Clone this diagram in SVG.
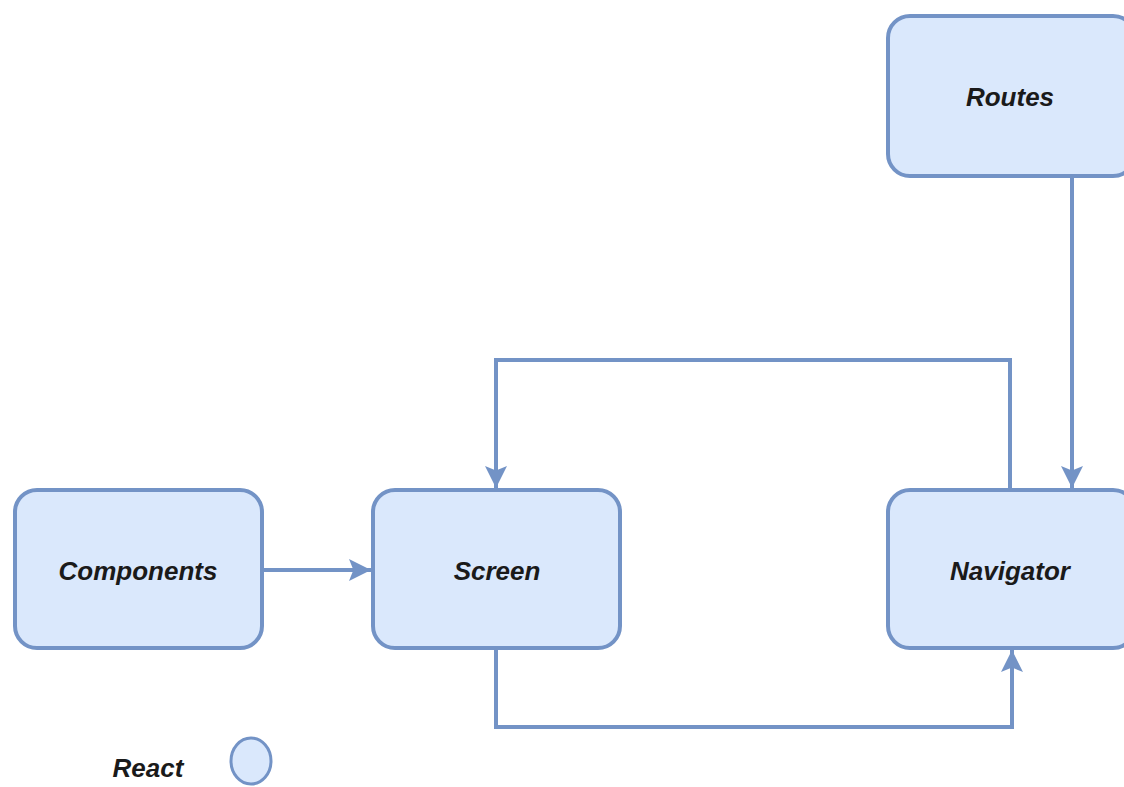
<svg xmlns="http://www.w3.org/2000/svg" width="1124" height="787" viewBox="0 0 1124 787">
  <style>
    .box { fill: #dae8fc; stroke: #7393c6; stroke-width: 4; }
    .label { font-family: "Liberation Sans", Arial, sans-serif; font-size: 26px; font-weight: bold; font-style: italic; fill: #1a1a1a; text-anchor: middle; }
    .edge { fill: none; stroke: #7393c6; stroke-width: 4; }
  </style>
  <defs>
    <marker id="arrow" viewBox="0 0 10 10" refX="10" refY="5" markerWidth="5.5" markerHeight="5.5" orient="auto" markerUnits="strokeWidth">
      <path d="M0,0 L10,5 L0,10 L2,5 Z" fill="#7393c6"/>
    </marker>
  </defs>
  <rect width="1124" height="787" fill="#ffffff"/>

  <g id="connectors">
    <path class="edge" d="M262,570 L371,570" marker-end="url(#arrow)"/>
    <path class="edge" d="M1072,176 L1072,488" marker-end="url(#arrow)"/>
    <path class="edge" d="M1010,490 L1010,360 L496,360 L496,488" marker-end="url(#arrow)"/>
    <path class="edge" d="M496,648 L496,727 L1012,727 L1012,650" marker-end="url(#arrow)"/>
  </g>

  <g id="routes">
    <rect class="box" x="888" y="16" width="247" height="160" rx="22"/>
    <text class="label" x="1010" y="106">Routes</text>
  </g>
  <g id="components">
    <rect class="box" x="15" y="490" width="247" height="158" rx="22"/>
    <text class="label" x="138" y="580">Components</text>
  </g>
  <g id="screen">
    <rect class="box" x="373" y="490" width="247" height="158" rx="22"/>
    <text class="label" x="497" y="580">Screen</text>
  </g>
  <g id="navigator">
    <rect class="box" x="888" y="490" width="247" height="158" rx="22"/>
    <text class="label" x="1010" y="580">Navigator</text>
  </g>
  <g id="legend">
    <text class="label" x="148" y="777">React</text>
    <ellipse cx="251" cy="761" rx="20" ry="23" fill="#dae8fc" stroke="#7393c6" stroke-width="3"/>
  </g>
</svg>
